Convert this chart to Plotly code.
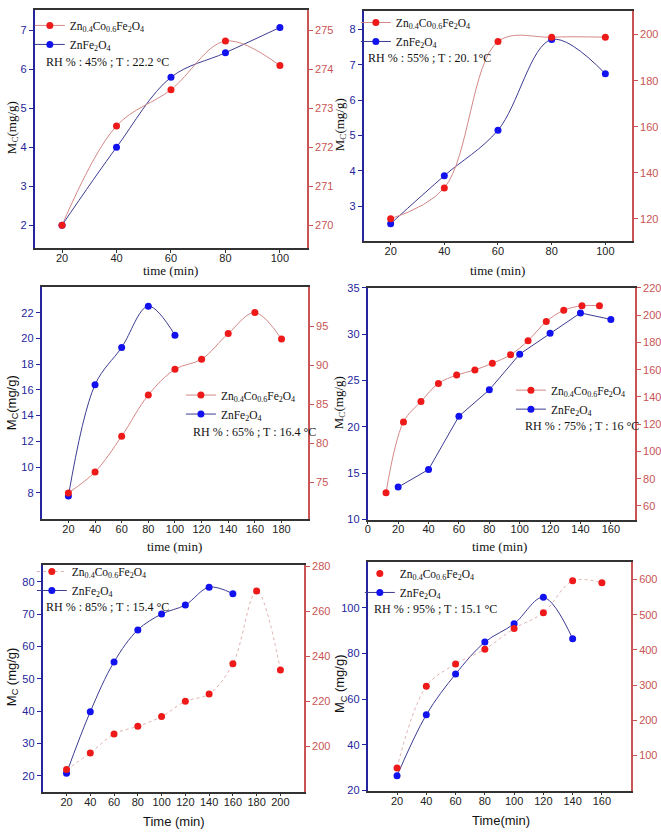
import plotly.graph_objects as go

W, H = 661, 838

# ---------------- data ----------------
time_p1 = [20, 40, 60, 80, 100]
p1_znfe = [2.0, 4.0, 5.8, 6.43, 7.08]
p1_znco = [270.0, 272.55, 273.48, 274.73, 274.1]

time_p2 = [20, 40, 60, 80, 100]
p2_znfe = [2.5, 3.86, 5.15, 7.72, 6.75]
p2_znco = [120.0, 133.4, 197.0, 198.9, 198.9]

time_p3_fe = [20, 40, 60, 80, 100]
p3_znfe = [7.75, 16.4, 19.3, 22.5, 20.25]
time_p3_co = [20, 40, 60, 80, 100, 120, 140, 160, 180]
p3_znco = [73.6, 76.3, 80.9, 86.2, 89.5, 90.8, 94.1, 96.8, 93.4]

time_p4_fe = [20, 40, 60, 80, 100, 120, 140, 160]
p4_znfe = [13.5, 15.4, 21.15, 24.0, 27.85, 30.1, 32.3, 31.6]
time_p4_co = [12, 23.5, 35, 46.5, 58.5, 70.5, 82, 94, 105.5, 117.5, 129, 141, 152.5]
p4_znco = [69.7, 121.6, 136.6, 149.9, 156.0, 159.8, 164.7, 170.9, 181.3, 195.3, 203.6, 206.9, 206.9]

time_p5_fe = [20, 40, 60, 80, 100, 120, 140, 160]
p5_znfe = [20.8, 39.8, 55.2, 65.1, 70.0, 72.8, 78.3, 76.3]
time_p5_co = [20, 40, 60, 80, 100, 120, 140, 160, 180, 200]
p5_znco = [189.5, 196.9, 205.4, 208.8, 213.1, 219.9, 223.2, 236.6, 269.1, 233.9]

time_p6_fe = [20, 40, 60, 80, 100, 120, 140]
p6_znfe = [26.5, 53.2, 71.0, 85.0, 93.0, 104.6, 86.5]
time_p6_co = [20, 40, 60, 80, 100, 120, 140, 160]
p6_znco = [64.5, 296.3, 359.8, 401.9, 460.7, 505.6, 596.3, 590.7]

conditions = ["RH % : 45% ; T : 22.2 °C", "RH % : 55% ; T : 20. 1°C",
              "RH % : 65% ; T : 16.4 °C", "RH % : 75% ; T : 16 °C",
              "RH % : 85% ; T : 15.4 °C", "RH % : 95% ; T : 15.1 °C"]
x_titles = ["time (min)", "time (min)", "time (min)", "time (min)", "Time (min)", "Time(min)"]
y_titles = ["M<sub>C</sub>(mg/g)"] * 4 + ["M<sub>C</sub> (mg/g)"] * 2
name_co = "Zn<sub>0.4</sub>Co<sub>0.6</sub>Fe<sub>2</sub>O<sub>4</sub>"
name_fe = "ZnFe<sub>2</sub>O<sub>4</sub>"

# ---------------- style ----------------
BLUE_AX = "#25259c"
RED_AX = "#c85454"
BLUE_MK = "#1212ee"
RED_MK = "#ee1a1a"
BLUE_LN = "#3c3c92"
RED_LN = "#d48888"
RED_LN_LIGHT = "#e0b0b0"
DARK = "#333333"
SERIF = "Liberation Serif"
SANS = "Liberation Sans"

def px(x):
    return x / W

def py(y):
    return 1 - y / H

# panel pixel boxes: (left, right, top, bottom)
boxes = [(32, 306, 4, 246), (363, 633, 5, 238), (39, 307, 285, 520),
         (367, 636, 286, 521), (40, 303, 567, 797), (367, 632, 564, 796)]
xranges = [[10, 110], [10, 110], [0, 200], [0, 176], [0, 220], [0, 180]]
xticks = [list(range(20, 101, 20)), list(range(20, 101, 20)), list(range(20, 181, 20)),
          list(range(0, 161, 20)), list(range(20, 201, 20)), list(range(20, 161, 20))]
ylranges = [[1.4, 7.53], [2.02, 8.53], [6, 24], [10, 35], [15.1, 85.2], [20, 120.1]]
ylticks = [list(range(2, 8)), list(range(3, 9)), list(range(8, 23, 2)),
           list(range(10, 36, 5)), list(range(20, 81, 10)), list(range(20, 101, 20))]
yrranges = [[269.4, 275.53], [110.5, 210.3], [70.3, 100.1], [50, 220], [179.7, 280.7], [0, 650]]
yrticks = [list(range(270, 276)), list(range(120, 201, 20)), list(range(75, 96, 5)),
           list(range(60, 221, 20)), list(range(200, 281, 20)), list(range(100, 601, 100))]

fe_series = [(time_p1, p1_znfe), (time_p2, p2_znfe), (time_p3_fe, p3_znfe),
             (time_p4_fe, p4_znfe), (time_p5_fe, p5_znfe), (time_p6_fe, p6_znfe)]
co_series = [(time_p1, p1_znco), (time_p2, p2_znco), (time_p3_co, p3_znco),
             (time_p4_co, p4_znco), (time_p5_co, p5_znco), (time_p6_co, p6_znco)]
fe_shape = ["spline", "spline", "spline", "linear", "spline", "spline"]
co_dash = ["solid", "solid", "solid", "solid", "dot", "dot"]

# legend (left px, top px) and condition text position (left px, center y px)
legend_pos = [(27, 5), (355, 2), (179, 380), (511, 375), (29, 559), (359, 561)]
cond_pos = [(41, 57), (365, 53), (189, 432), (523, 426), (41, 610), (371, 612)]
xtitle_pos = [(169, 268), (498, 268), (173, 548), (500, 548), (172, 827), (501, 826)]
ytitle_pos = [(9, 123), (339, 120), (9, 402), (338, 402), (9, 680), (339, 687)]
x_title_fonts = [SERIF, SERIF, SERIF, SERIF, SANS, SANS]
y_title_fonts = [SERIF, SERIF, SANS, SERIF, SANS, SANS]

fig = go.Figure()
layout = dict(width=W, height=H, margin=dict(l=0, r=0, t=0, b=0),
              paper_bgcolor="white", plot_bgcolor="white", showlegend=True)
annotations = []

for i in range(6):
    n = i + 1
    xa = f"x{n}"
    yl = f"y{2 * i + 1}"
    yr = f"y{2 * i + 2}"
    leg = "legend" if n == 1 else f"legend{n}"
    L, R, T, B = boxes[i]

    # red series on right axis
    tx, ty = co_series[i]
    lcol = RED_LN_LIGHT if co_dash[i] == "dot" else RED_LN
    if n == 6:
        fig.add_trace(go.Scatter(x=tx, y=ty, mode="lines", xaxis=xa, yaxis=yr,
                                 line=dict(color=lcol, width=1, shape="spline", dash=co_dash[i]),
                                 showlegend=False, legend=leg))
        fig.add_trace(go.Scatter(x=tx, y=ty, mode="markers", xaxis=xa, yaxis=yr, name=name_co,
                                 marker=dict(color=RED_MK, size=7), legend=leg))
    else:
        fig.add_trace(go.Scatter(x=tx, y=ty, mode="lines+markers", xaxis=xa, yaxis=yr, name=name_co,
                                 line=dict(color=lcol, width=1, shape="spline", dash=co_dash[i]),
                                 marker=dict(color=RED_MK, size=7), legend=leg))
    # blue series on left axis
    tx, ty = fe_series[i]
    fig.add_trace(go.Scatter(x=tx, y=ty, mode="lines+markers", xaxis=xa, yaxis=yl, name=name_fe,
                             line=dict(color=BLUE_LN, width=1, shape=fe_shape[i]),
                             marker=dict(color=BLUE_MK, size=7), legend=leg))

    key = "xaxis" if n == 1 else f"xaxis{n}"
    layout[key] = dict(domain=[px(L), px(R)], anchor=yl, range=xranges[i], tickvals=xticks[i],
                       showline=True, linecolor=DARK, linewidth=1.5, mirror=True,
                       ticks="outside", ticklen=3, tickcolor=DARK, showgrid=False, zeroline=False,
                       ticklabelstandoff=-4,
                       tickfont=dict(family=SANS, size=11, color="#222222"))
    klyl = "yaxis" if 2 * i + 1 == 1 else f"yaxis{2 * i + 1}"
    layout[klyl] = dict(domain=[py(B), py(T)], anchor=xa, range=ylranges[i], tickvals=ylticks[i],
                        showline=True, linecolor=BLUE_AX, linewidth=2, ticks="outside", ticklen=4,
                        tickcolor=BLUE_AX, showgrid=False, zeroline=False,
                        tickfont=dict(family=SANS, size=11, color=BLUE_AX))
    layout[f"yaxis{2 * i + 2}"] = dict(overlaying=yl, side="right", anchor=xa, range=yrranges[i],
                                       tickvals=yrticks[i], showline=True, linecolor=RED_AX,
                                       linewidth=1.5, ticks="outside", ticklen=4, tickcolor=RED_AX,
                                       showgrid=False, zeroline=False,
                                       tickfont=dict(family=SANS, size=11, color=RED_AX))
    lx, ly = legend_pos[i]
    layout[leg] = dict(x=px(lx), y=py(ly), xanchor="left", yanchor="top",
                       bgcolor="rgba(0,0,0,0)", borderwidth=0, tracegroupgap=0,
                       itemwidth=30, font=dict(family=SERIF, size=11.5, color="#111111"))
    cx, cy = cond_pos[i]
    annotations.append(dict(x=px(cx), y=py(cy), xref="paper", yref="paper", xanchor="left",
                            yanchor="middle", showarrow=False, text=conditions[i],
                            font=dict(family=SERIF, size=12, color="#111111")))
    tx_, ty_ = xtitle_pos[i]
    annotations.append(dict(x=px(tx_), y=py(ty_), xref="paper", yref="paper", xanchor="center",
                            yanchor="middle", showarrow=False, text=x_titles[i],
                            font=dict(family=x_title_fonts[i], size=13, color="#111111")))
    yx_, yy_ = ytitle_pos[i]
    annotations.append(dict(x=px(yx_), y=py(yy_), xref="paper", yref="paper", xanchor="center",
                            yanchor="middle", showarrow=False, text=y_titles[i], textangle=-90,
                            font=dict(family=y_title_fonts[i], size=13, color="#111111")))

layout["annotations"] = annotations
fig.update_layout(**layout)
fig.write_html("out.html", config={"displayModeBar": False},
               post_script="document.body.style.margin='0';document.body.style.overflow='hidden';")
